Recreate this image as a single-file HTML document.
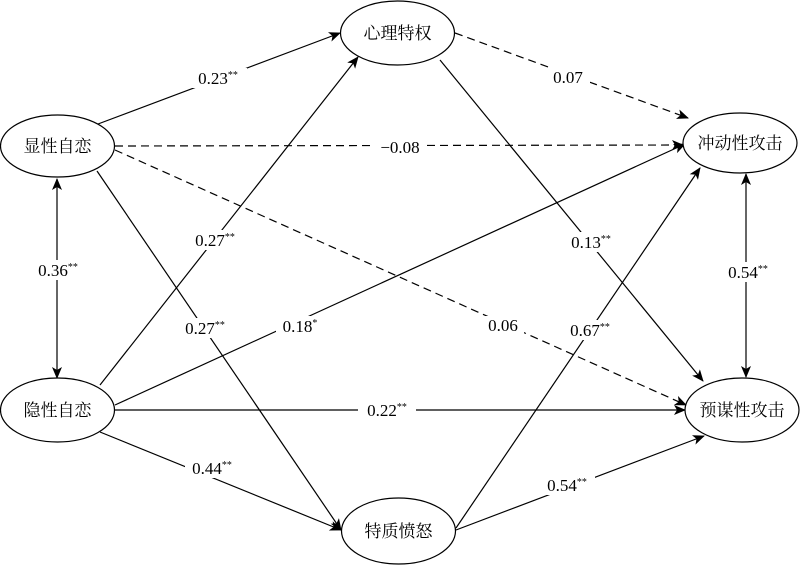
<!DOCTYPE html>
<html><head><meta charset="utf-8"><style>
html,body{margin:0;padding:0;background:#fff;}
svg{display:block;}
</style></head><body>
<svg width="800" height="565" viewBox="0 0 800 565" xmlns="http://www.w3.org/2000/svg">
<defs>
<marker id="a" viewBox="0 0 12 10" refX="11" refY="5" markerWidth="12" markerHeight="10" markerUnits="userSpaceOnUse" orient="auto-start-reverse">
<path d="M0,0 L12,5 L0,10 L3,5 z" fill="#000"/></marker>
</defs>
<g stroke="#000" stroke-width="1.2" fill="none">
<line x1="98" y1="124" x2="340" y2="33" marker-end="url(#a)"/>
<line x1="115" y1="146" x2="683" y2="145" stroke-dasharray="8,5" marker-end="url(#a)"/>
<line x1="115" y1="150" x2="686" y2="405" stroke-dasharray="8,5" marker-end="url(#a)"/>
<line x1="97" y1="171" x2="341" y2="530" marker-end="url(#a)"/>
<line x1="100" y1="385" x2="358" y2="57" marker-end="url(#a)"/>
<line x1="115" y1="405" x2="685" y2="144" marker-end="url(#a)"/>
<line x1="115" y1="410" x2="685" y2="410" marker-end="url(#a)"/>
<line x1="100" y1="432" x2="341" y2="530" marker-end="url(#a)"/>
<line x1="455" y1="33" x2="688" y2="118" stroke-dasharray="8,5" marker-end="url(#a)"/>
<line x1="440" y1="60" x2="703" y2="381" marker-end="url(#a)"/>
<line x1="456" y1="528" x2="700" y2="168" marker-end="url(#a)"/>
<line x1="456" y1="530" x2="704" y2="436" marker-end="url(#a)"/>
<line x1="57" y1="179" x2="57" y2="378" marker-start="url(#a)" marker-end="url(#a)"/>
<line x1="746" y1="174" x2="746" y2="377" marker-start="url(#a)" marker-end="url(#a)"/>
<ellipse cx="57.5" cy="146" rx="57" ry="31" fill="#fff"/>
<ellipse cx="57.5" cy="410" rx="57" ry="32" fill="#fff"/>
<ellipse cx="397.5" cy="33" rx="57" ry="32" fill="#fff"/>
<ellipse cx="398.5" cy="531" rx="57" ry="33" fill="#fff"/>
<ellipse cx="740" cy="143" rx="57" ry="30" fill="#fff"/>
<ellipse cx="742" cy="410" rx="57" ry="32" fill="#fff"/>
</g>
<g font-family="'Noto Serif CJK SC','Noto Sans CJK SC',serif" font-size="17" text-anchor="middle" fill="#000">
<text x="57.5" y="152">显性自恋</text>
<text x="57.5" y="416">隐性自恋</text>
<text x="397.5" y="39">心理特权</text>
<text x="398.5" y="537">特质愤怒</text>
<text x="740" y="149">冲动性攻击</text>
<text x="742" y="416">预谋性攻击</text>
</g>
<g fill="#fff">
<rect x="192" y="68" width="55" height="20"/>
<rect x="375" y="138" width="50" height="18"/>
<rect x="484" y="316" width="40" height="18"/>
<rect x="180" y="318" width="52" height="20"/>
<rect x="190" y="230" width="52" height="20"/>
<rect x="276" y="316" width="50" height="20"/>
<rect x="358" y="400" width="58" height="20"/>
<rect x="185" y="458" width="55" height="20"/>
<rect x="548" y="68" width="42" height="18"/>
<rect x="565" y="232" width="52" height="20"/>
<rect x="565" y="320" width="52" height="20"/>
<rect x="540" y="475" width="55" height="20"/>
<rect x="33" y="260" width="52" height="20"/>
<rect x="722" y="262" width="52" height="20"/>
</g>
<g font-family="'Liberation Serif',serif" font-size="17" text-anchor="middle" fill="#000">
<text x="218" y="84">0.23<tspan font-size="10" dy="-6">**</tspan></text>
<text x="400" y="153">−0.08</text>
<text x="503" y="331">0.06</text>
<text x="205" y="334">0.27<tspan font-size="10" dy="-6">**</tspan></text>
<text x="215" y="246">0.27<tspan font-size="10" dy="-6">**</tspan></text>
<text x="300" y="332">0.18<tspan font-size="10" dy="-6">*</tspan></text>
<text x="387" y="416">0.22<tspan font-size="10" dy="-6">**</tspan></text>
<text x="212" y="474">0.44<tspan font-size="10" dy="-6">**</tspan></text>
<text x="568" y="83">0.07</text>
<text x="591" y="248">0.13<tspan font-size="10" dy="-6">**</tspan></text>
<text x="590" y="336">0.67<tspan font-size="10" dy="-6">**</tspan></text>
<text x="567" y="491">0.54<tspan font-size="10" dy="-6">**</tspan></text>
<text x="58" y="276">0.36<tspan font-size="10" dy="-6">**</tspan></text>
<text x="748" y="278">0.54<tspan font-size="10" dy="-6">**</tspan></text>
</g>
</svg>
</body></html>
